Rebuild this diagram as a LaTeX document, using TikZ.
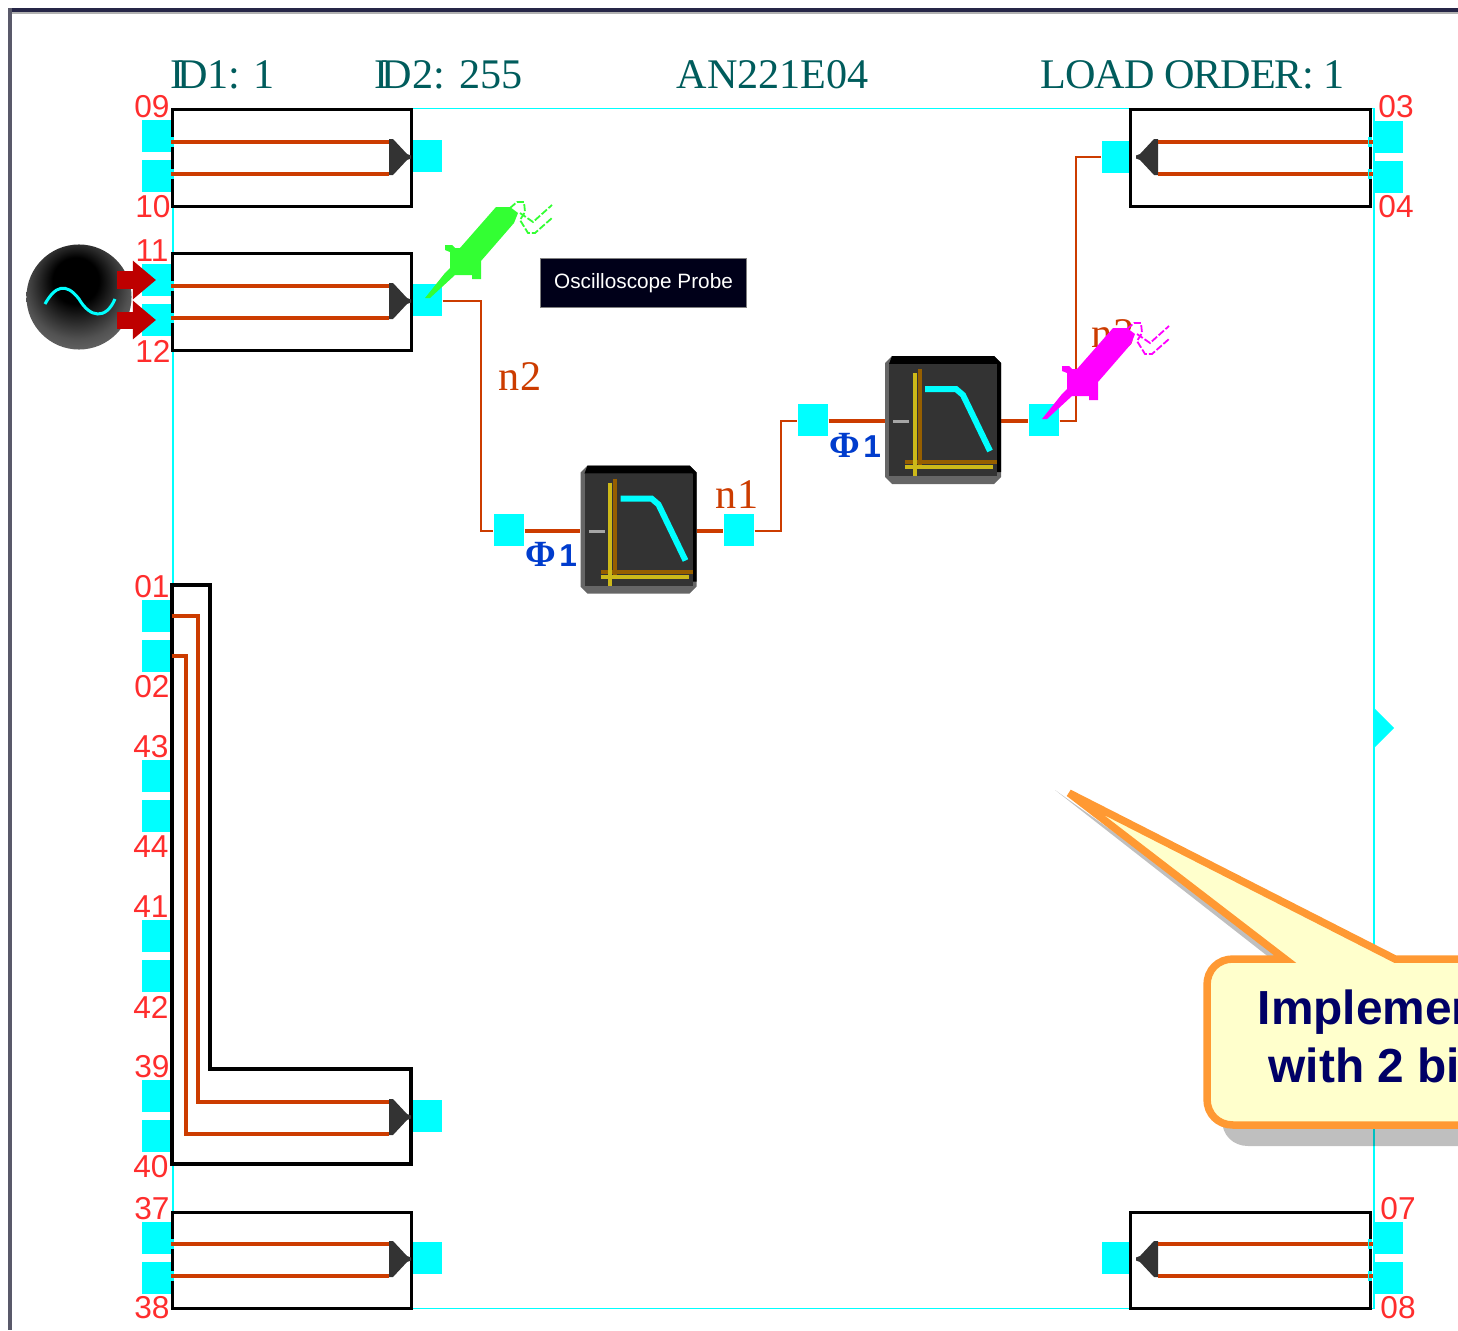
\documentclass[tikz,border=0pt]{standalone}
\usepackage{fontspec}
\setmainfont{Liberation Serif}
\setsansfont{Liberation Sans}
\usetikzlibrary{arrows.meta}
\definecolor{portcyan}{RGB}{0,255,255}
\definecolor{netred}{RGB}{204,60,0}
\definecolor{pinred}{RGB}{255,45,45}
\definecolor{headteal}{RGB}{0,92,92}
\definecolor{calloutorange}{RGB}{255,153,51}
\definecolor{calloutfill}{RGB}{255,255,204}
\definecolor{calloutnavy}{RGB}{0,0,102}
\definecolor{phaseblue}{RGB}{0,60,205}
\definecolor{srcred}{RGB}{190,0,0}
\definecolor{axisyellow}{RGB}{205,185,25}
\definecolor{axisbrown}{RGB}{150,95,0}
\definecolor{probegreen}{RGB}{51,255,51}
\definecolor{probepink}{RGB}{255,0,255}
\pgfdeclareradialshading{blackball}{\pgfpoint{-2bp}{10bp}}{color(0bp)=(black); color(11bp)=(black); color(25bp)=(black!68); color(37bp)=(black!52); color(50bp)=(black!52)}
\tikzset{
  port/.style={fill=portcyan,inner sep=0pt,minimum width=0.30cm,minimum height=0.32cm},
  pinlab/.style={text=pinred,inner sep=0pt,font=\sffamily\fontsize{9}{9}\selectfont},
  head/.style={text=headteal,inner sep=0pt,anchor=base west,font=\fontsize{12}{12}\selectfont},
  netlab/.style={text=netred,inner sep=0pt,font=\fontsize{12}{12}\selectfont},
  phaselab/.style={text=phaseblue,inner sep=0pt,font=\bfseries\fontsize{10.5}{11}\selectfont},
  notetext/.style={text=calloutnavy,inner sep=0pt,anchor=base west,font=\sffamily\bfseries\fontsize{13.6}{14}\selectfont},
  bufbox/.style={draw=black,line width=0.032cm,inner sep=0pt,anchor=north west,minimum width=2.39cm,minimum height=0.97cm},
  bus/.style={draw=netred,line width=0.032cm},
  net/.style={draw=netred,line width=0.02cm},
  srcarrow/.style={draw=srcred,line width=0.17cm,-{Triangle[length=0.23cm,width=0.37cm]}},
  lpbody/.style={inner sep=0pt,minimum width=1.15cm,minimum height=1.27cm},
  pics/brk/.style={code={
    \fill[portcyan] (-2,-5) rectangle (2,5);
    \draw[bus] (-1,0) -- (3,0);
  }},
  pics/driver/.style={code={
    \fill[black!80] (0,-18) -- (4,-18) -- (18,-3) -- (22,-1.5) -- (22,1.5) -- (18,3) -- (4,18) -- (0,18) -- cycle;
  }},
  pics/lowpass/.style={code={
    \fill[black!60] (-58,-57) -- (-51,-64) -- (51,-64) -- (58,-57) -- (58,57) -- (51,64) -- (-51,64) -- (-58,57) -- cycle;
    \fill[black] (-51,-64) -- (51,-64) -- (58,-57) -- (58,52) -- (54,52) -- (54,-56) -- (-54,-56) -- cycle;
    \fill[black!80] (-54,-56) rectangle (54,56);
    \draw[axisbrown,line width=0.04cm] (-23.5,-51) -- (-23.5,48);
    \draw[axisbrown,line width=0.04cm] (-38,42) -- (54,42);
    \draw[axisyellow,line width=0.04cm] (-28.5,-47) -- (-28.5,56);
    \draw[axisyellow,line width=0.04cm] (-38,47) -- (50,47);
    \draw[portcyan,line width=0.06cm] (-18,-31) -- (13,-31) -- (20,-25) -- (47,31);
    \draw[black!35,line width=0.03cm] (-50,1.5) -- (-34,1.5);
  }},
  pics/probe/.style={code={
    % drawn with the tip of the probe at the origin
    \fill[#1] (0,0) -- (20,-25) -- (25,-30) -- (25,-46) -- (20,-48) -- (20,-53) -- (27,-53) -- (30,-50) -- (35,-50) -- (71,-91) -- (85,-91) -- (93,-85) -- (89,-75) -- (56,-37) -- (56,-19) -- (47,-19) -- (47,-23) -- (30,-23) -- (5,0) -- cycle;
    \draw[#1,line width=0.018cm,dash pattern=on 2pt off 0.6pt] (85,-90) -- (92,-96) -- (99,-96) -- (100,-86) -- (95,-78) -- (103,-65) -- (110,-65) -- (127,-80);
    \draw[#1,line width=0.018cm,dash pattern=on 2pt off 0.6pt] (95,-85) -- (108,-76) -- (127,-93);
  }}
}
\begin{document}
\begin{tikzpicture}[x=0.01cm,y=-0.01cm]
  \useasboundingbox (0,0) rectangle (1458,1330);
  \clip (0,0) rectangle (1458,1330);

  % window edge
  \draw[black!30,line width=0.02cm] (12,12.5) -- (1458,12.5);
  \draw[blue!15!black!85,line width=0.04cm] (8,10) -- (1458,10);
  \draw[blue!10!black!65,line width=0.04cm] (10,8) -- (10,1330);

  % outline of the chip
  \draw[portcyan,line width=0.018cm] (173,108.5) rectangle (1374,1308.5);
  \fill[portcyan] (1374,708) -- (1394,728) -- (1374,748) -- cycle;

  % header
  \node[head] (id1) at (170,88) {\addfontfeature{LetterSpace=-1}I\kern-2pt D1: 1};
  \node[head] (id2) at (374,88) {I\kern-2pt D2: 255};
  \node[head] (chip) at (676,88) {AN221E04};
  \node[head] (order) at (1040,88) {\addfontfeature{LetterSpace=-2.5}LOAD ORDER: 1};

  % input ports
  \node[port] (p09) at (157,136) {};
  \node[port] (p10) at (157,176) {};
  \node[port] (p11) at (157,280) {};
  \node[port] (p12) at (157,320) {};
  \node[port] (p01) at (157,616) {};
  \node[port] (p02) at (157,656) {};
  \node[port] (p43) at (157,776) {};
  \node[port] (p44) at (157,816) {};
  \node[port] (p41) at (157,936) {};
  \node[port] (p42) at (157,976) {};
  \node[port] (p39) at (157,1096) {};
  \node[port] (p40) at (157,1136) {};
  \node[port] (p37) at (157,1238) {};
  \node[port] (p38) at (157,1278) {};
  \node[port] (p03) at (1388,137) {};
  \node[port] (p04) at (1388,177) {};
  \node[port] (p07) at (1388,1238) {};
  \node[port] (p08) at (1388,1278) {};

  % output ports
  \node[port] (o1) at (427,156) {};
  \node[port] (o2) at (427,300) {};
  \node[port] (o3) at (427,1116) {};
  \node[port] (o4) at (427,1258) {};
  \node[port] (o5) at (1117,157) {};
  \node[port] (o6) at (1117,1258) {};

  % pin numbers
  \node[pinlab] (l09) at (152,107) {09};
  \node[pinlab] (l10) at (153,207) {10};
  \node[pinlab] (l11) at (152,251) {11};
  \node[pinlab] (l12) at (153,351) {12};
  \node[pinlab] (l01) at (152,587) {01};
  \node[pinlab] (l02) at (152,687) {02};
  \node[pinlab] (l43) at (151,747) {43};
  \node[pinlab] (l44) at (151,847) {44};
  \node[pinlab] (l41) at (151,907) {41};
  \node[pinlab] (l42) at (151,1007) {42};
  \node[pinlab] (l39) at (152,1067) {39};
  \node[pinlab] (l40) at (151,1167) {40};
  \node[pinlab] (l37) at (152,1209) {37};
  \node[pinlab] (l38) at (152,1308) {38};
  \node[pinlab] (l03) at (1396,107) {03};
  \node[pinlab] (l04) at (1396,207) {04};
  \node[pinlab] (l07) at (1398,1209) {07};
  \node[pinlab] (l08) at (1398,1308) {08};

  % buffer boxes
  \node[bufbox] (b1) at (170.5,107.5) {};
  \node[bufbox] (b2) at (170.5,251.5) {};
  \node[bufbox,minimum height=0.96cm] (b5) at (170.5,1210.5) {};
  \node[bufbox,minimum width=2.40cm] (b3) at (1128.5,107.5) {};
  \node[bufbox,minimum width=2.40cm,minimum height=0.96cm] (b6) at (1128.5,1210.5) {};
  \draw[black,line width=0.032cm] (172,585) -- (210,585) -- (210,1069) -- (411,1069) -- (411,1164) -- (172,1164) -- cycle;

  % drivers inside the boxes
  \coordinate (d1) at (389,157);
  \coordinate (d2) at (389,301);
  \coordinate (d3) at (389,1117);
  \coordinate (d4) at (389,1259);
  \coordinate (d5) at (1158,157);
  \coordinate (d6) at (1158,1259);
  \pic at (d1) {driver};
  \pic at (d2) {driver};
  \pic at (d3) {driver};
  \pic at (d4) {driver};
  \pic[xscale=-1] at (d5) {driver};
  \pic[xscale=-1] at (d6) {driver};

  % inner wires
  \coordinate (w09) at (172,142);
  \coordinate (w10) at (172,174);
  \coordinate (w11) at (172,286);
  \coordinate (w12) at (172,318);
  \coordinate (w01) at (172,616);
  \coordinate (w02) at (172,656);
  \coordinate (w37) at (172,1244);
  \coordinate (w38) at (172,1276);
  \coordinate (w03) at (1370,142);
  \coordinate (w04) at (1370,174);
  \coordinate (w07) at (1370,1244);
  \coordinate (w08) at (1370,1276);
  \draw[bus] (w09) pic {brk} -- (w09 -| d1);
  \draw[bus] (w10) pic {brk} -- (w10 -| d1);
  \draw[bus] (w11) pic {brk} -- (w11 -| d2);
  \draw[bus] (w12) pic {brk} -- (w12 -| d2);
  \draw[bus] (w37) pic {brk} -- (w37 -| d4);
  \draw[bus] (w38) pic {brk} -- (w38 -| d4);
  \draw[bus] (w03) pic {brk} -- (w03 -| d5);
  \draw[bus] (w04) pic {brk} -- (w04 -| d5);
  \draw[bus] (w07) pic {brk} -- (w07 -| d6);
  \draw[bus] (w08) pic {brk} -- (w08 -| d6);
  \draw[bus] (w01) -- (198,616) -- (198,1102) -- (d3 |- 0,1102);
  \draw[bus] (w02) -- (186,656) -- (186,1134) -- (d3 |- 0,1134);

  % the signal path
  \node[port] (in1) at (509,530) {};
  \node[port] (out1) at (739,530) {};
  \node[port] (in2) at (813,420) {};
  \node[port] (out2) at (1044,420) {};
  \node[lpbody] (f1) at (638.5,529.5) {};
  \node[lpbody] (f2) at (943,420) {};
  \draw[net] (o2.east |- 0,300.5) -- (481,300.5) -- (481,531) -- (in1.west |- 0,531);
  \draw[net] (out1.east |- 0,531) -- (781,531) -- (781,421) -- (in2.west |- 0,421);
  \draw[net] (out2.east |- 0,421) -- (1076,421) -- (1076,157) -- (o5.west);
  \draw[bus] (in1.east |- 0,531) -- (f1.west |- 0,531);
  \draw[bus] (f1.east |- 0,531) -- (out1.west |- 0,531);
  \draw[bus] (in2.east |- 0,421) -- (f2.west |- 0,421);
  \draw[bus] (f2.east |- 0,421) -- (out2.west |- 0,421);
  \pic at (f1) {lowpass};
  \pic at (f2) {lowpass};
  \node[netlab] (n2) at (520,377) {n2};
  \node[netlab] (n1) at (737,495) {n1};
  \node[netlab] (n3) at (1113,334) {n3};
  \node[phaselab] (ph1) at (551,554) {Φ\kern1pt{\sffamily\fontsize{9}{9}\selectfont 1}};
  \node[phaselab] (ph2) at (855,445) {Φ\kern1pt{\sffamily\fontsize{9}{9}\selectfont 1}};

  % source on the pins 11 and 12
  \node[circle,shading=blackball,inner sep=0pt,minimum size=1.05cm] (src) at (79,297) {};
  \draw[portcyan,line width=0.03cm] (45,304) .. controls (55,286) and (66,282) .. (79,299) .. controls (90,318) and (106,320) .. (115,299);
  \draw[srcarrow] ([xshift=-0.15cm]src.east |- p11) -- ([xshift=-0.01cm]p11.center);
  \draw[srcarrow] ([xshift=-0.15cm]src.east |- p12) -- ([xshift=-0.01cm]p12.center);

  % probes
  \coordinate (t1) at (425,298);
  \coordinate (t2) at (1042,419);
  \pic at (t1) {probe=probegreen};
  \pic at (t2) {probe=probepink};
  \node[fill=blue!10!black,draw=black!50,line width=0.008cm,text=white,inner sep=0pt,minimum width=2.06cm,minimum height=0.49cm,font=\sffamily\fontsize{5.9}{6}\selectfont] (tip) at (643.5,283) {\raisebox{-0.6pt}{Oscilloscope Probe}};

  % callout
  \fill[black,opacity=0.25] (1055,790) -- (1270,958) -- (1248,958) .. controls (1233,958) and (1222,970) .. (1222,985) -- (1222,1120) .. controls (1222,1135) and (1233,1146) .. (1248,1146) -- (1478,1146) -- (1478,958) -- (1290,958) -- cycle;
  \draw[draw=calloutorange,fill=calloutfill,line width=0.075cm,miter limit=4] (1478,959) -- (1395,959) -- (1069,793) -- (1285,959) -- (1233,959) .. controls (1218,959) and (1207,970) .. (1207,985) -- (1207,1099) .. controls (1207,1114) and (1218,1125) .. (1233,1125) -- (1478,1125);
  \node[notetext] (note1) at (1257,1024) {Implemen};
  \node[notetext] (note2) at (1268,1082) {with 2 bi};
\end{tikzpicture}
\end{document}
